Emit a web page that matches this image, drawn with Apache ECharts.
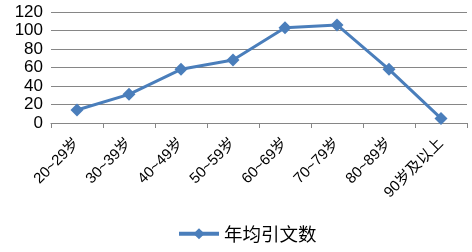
<!DOCTYPE html>
<html><head><meta charset="utf-8">
<script src="https://cdn.jsdelivr.net/npm/echarts@6/dist/echarts.min.js"></script>
<style>html,body{margin:0;padding:0;background:#fff}#c{width:472px;height:252px}</style>
</head><body><div id="c"></div>
<script>
const categories = ["20~29岁","30~39岁","40~49岁","50~59岁","60~69岁","70~79岁","80~89岁","90岁及以上"];
const values = [14, 31, 58, 68, 103, 106, 58, 5];
const seriesName = "年均引文数";
const yTicks = {min: 0, max: 120, interval: 20};

const chart = echarts.init(document.getElementById('c'), null, {renderer: 'canvas'});
chart.setOption({
  animation: false,
  grid: {left: 51, right: 5, top: 12, bottom: 129, containLabel: false},
  legend: {
    bottom: 4, left: 172,
    itemWidth: 40, itemHeight: 14, itemGap: 4,
    lineStyle: {width: 4},
    textStyle: {fontSize: 18.5, color: '#000', fontFamily: '"Noto Sans CJK SC", sans-serif'},
    data: [seriesName]
  },
  xAxis: {
    type: 'category', data: categories, boundaryGap: true,
    axisLine: {lineStyle: {color: '#868686', width: 1}},
    axisTick: {show: true, length: 5, lineStyle: {color: '#868686'}},
    axisLabel: {rotate: 45, fontSize: 15, color: '#000', margin: 18, interval: 0,
      fontFamily: '"Liberation Sans", "Noto Sans CJK SC", sans-serif'}
  },
  yAxis: {
    type: 'value', min: yTicks.min, max: yTicks.max, interval: yTicks.interval,
    axisLine: {show: false}, axisTick: {show: false},
    splitLine: {lineStyle: {color: '#868686', width: 1}},
    axisLabel: {fontSize: 17, color: '#000', margin: 8, fontFamily: '"Liberation Sans", sans-serif'}
  },
  series: [{
    name: seriesName, type: 'line', data: values,
    symbol: 'diamond', symbolSize: 13,
    lineStyle: {color: '#4A7EBB', width: 3},
    itemStyle: {color: '#4A7EBB'}
  }]
});
</script></body></html>
